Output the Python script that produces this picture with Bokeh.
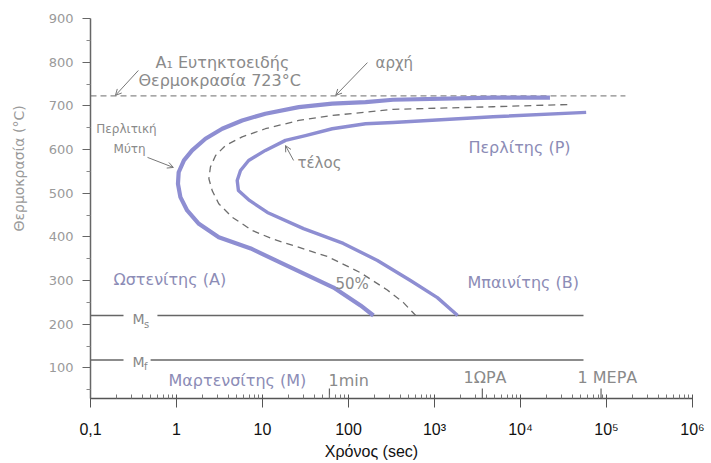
from bokeh.plotting import figure
from bokeh.models import FixedTicker, Arrow, OpenHead, ColumnDataSource, Range1d
from bokeh.core.properties import value
from bokeh.embed import file_html
from bokeh.resources import INLINE

# ---------------- data ----------------
# transformation start curve ("αρχή"): time [s], temperature [°C]
start_t = [22000, 4800, 330, 158, 64.7, 26.4, 10.8, 5.8, 3.4, 2.17, 1.52, 1.22, 1.06, 1.04,
           1.11, 1.33, 1.82, 3.1, 7.3, 16.2, 67, 138, 195]
start_T = [719, 719, 714, 708.5, 705, 697, 682, 666.6, 647.6, 624.6, 598, 575, 548, 521.5,
           491, 460.5, 430, 399, 373.5, 341, 284, 243, 220]
# 50% transformation curve
half_t = [35000, 4800, 330, 158, 64.7, 26.4, 10.8, 5.8, 3.7, 2.84, 2.48, 2.38, 2.6, 3.1,
          4.45, 7.6, 13, 57, 138, 280, 433, 605]
half_T = [703, 698, 692, 685.6, 678, 666.6, 647.6, 629, 609, 586, 560, 533, 506, 476,
          445, 414.7, 395.6, 355, 318, 279, 250, 220]
# transformation end curve ("τέλος")
end_t = [58000, 4800, 330, 158, 64.7, 31.6, 18.5, 10.8, 6.9, 5.55, 5.08, 5.25, 7.06, 11.4,
         30, 87, 217, 525, 1080, 1860]
end_T = [685, 675, 662, 659, 647.6, 632, 621, 598, 575, 552, 529, 506, 483.5, 456,
         419, 385, 346, 300, 261, 220]

eutectoid_T = 723          # A1
eutectoid_t_end = 1.66e5
ms_T = 220                 # martensite start
mf_T = 118                 # martensite finish
m_line_t_end = 5.4e4
ms_gap = [0.242, 0.60]     # gap around the "Ms" label
mf_gap = [0.242, 0.50]

marker_t = [60, 3600, 86400]          # 1 min, 1 hour, 1 day
marker_labels = ["1min", "1ΩΡΑ", "1 ΜΕΡΑ"]

x_ticks = [0.1, 1, 10, 100, 1e3, 1e4, 1e5, 1e6]
x_tick_labels = ["0,1", "1", "10", "100", "10³", "10⁴", "10⁵", "10⁶"]
y_ticks = [100, 200, 300, 400, 500, 600, 700, 800, 900]

# ---------------- figure ----------------
FONT = "DejaVu Sans"
LAV = "#8e8ed2"
GREY_TXT = "#8a8a8a"
PHASE_TXT = "#8c8cb6"
NB = "\u00a0"

p = figure(width=711, height=463, x_axis_type="log",
           x_range=Range1d(0.1, 1e6), y_range=Range1d(30, 900),
           output_backend="svg", toolbar_location=None,
           min_border_left=90, min_border_right=19,
           min_border_top=18, min_border_bottom=65)
p.outline_line_color = None
p.grid.visible = False
p.background_fill_color = "white"
p.border_fill_color = "white"

minor = [k * 10 ** d for d in range(-1, 6) for k in range(2, 10)]
p.xaxis.ticker = FixedTicker(ticks=x_ticks, minor_ticks=minor)
p.xaxis.major_label_overrides = {float(t): l for t, l in zip(x_ticks, x_tick_labels)}
p.xaxis.major_label_text_font = "Liberation Sans"
p.xaxis.major_label_text_font_size = "16px"
p.xaxis.major_label_text_color = "#111111"
p.xaxis.axis_line_color = "#555555"
p.xaxis.axis_line_width = 1.5
p.xaxis.major_tick_line_color = "#555555"
p.xaxis.minor_tick_line_color = "#777777"
p.xaxis.major_tick_in = 4
p.xaxis.major_tick_out = 9
p.xaxis.minor_tick_in = 4
p.xaxis.minor_tick_out = 0
p.xaxis.major_label_standoff = 13
p.xaxis.axis_label = "Χρόνος (sec)" + NB * 9
p.xaxis.axis_label_text_font = "Liberation Sans"
p.xaxis.axis_label_text_font_size = "16px"
p.xaxis.axis_label_text_font_style = "normal"
p.xaxis.axis_label_text_color = "#111111"
p.xaxis.axis_label_standoff = 2

p.yaxis.ticker = FixedTicker(ticks=y_ticks, minor_ticks=[v + 50 for v in y_ticks[:-1]] + [50])
p.yaxis.major_label_text_font = FONT
p.yaxis.major_label_text_font_size = "13px"
p.yaxis.major_label_text_color = "#9a9a9a"
p.yaxis.axis_line_color = "#666666"
p.yaxis.axis_line_width = 1.5
p.yaxis.major_tick_line_color = "#666666"
p.yaxis.minor_tick_line_color = "#888888"
p.yaxis.major_tick_in = 0
p.yaxis.major_tick_out = 8
p.yaxis.minor_tick_in = 0
p.yaxis.minor_tick_out = 4
p.yaxis.major_label_standoff = 9
p.yaxis.axis_label = NB * 18 + "Θερμοκρασία (°C)"
p.yaxis.axis_label_text_font = FONT
p.yaxis.axis_label_text_font_size = "14px"
p.yaxis.axis_label_text_font_style = "normal"
p.yaxis.axis_label_text_color = "#9a9a9a"
p.yaxis.axis_label_standoff = 19

# ---------------- lines ----------------
p.line([0.1, eutectoid_t_end], [eutectoid_T, eutectoid_T], line_color="#8a8a8a",
       line_width=1.2, line_dash="6 4")
p.line([0.1, ms_gap[0]], [ms_T, ms_T], line_color="#666666", line_width=1.6)
p.line([ms_gap[1], m_line_t_end], [ms_T, ms_T], line_color="#666666", line_width=1.6)
p.line([0.1, mf_gap[0]], [mf_T, mf_T], line_color="#666666", line_width=1.6)
p.line([mf_gap[1], m_line_t_end], [mf_T, mf_T], line_color="#666666", line_width=1.6)

p.line(start_t, start_T, line_color=LAV, line_width=4.2, line_join="round")
p.line(half_t, half_T, line_color="#6e6e6e", line_width=1.3, line_dash="7 5")
p.line(end_t, end_T, line_color=LAV, line_width=3.4, line_join="round")

p.segment(x0=marker_t, x1=marker_t, y0=[30] * 3, y1=[53] * 3,
          line_color="#666666", line_width=1.2)

# ---------------- texts ----------------
def txt(xs, ys, texts, color, size, align="left", font=FONT):
    src = ColumnDataSource(dict(x=xs, y=ys, t=texts))
    p.text(x="x", y="y", text="t", source=src, text_color=color,
           text_font=value(font), text_font_size=size,
           text_align=align, text_baseline="middle")

txt([0.57, 0.361], [799, 758], ["A₁ Ευτηκτοειδής", "Θερμοκρασία 723°C"], GREY_TXT, "16px")
txt([206], [799], ["αρχή"], GREY_TXT, "15px")
txt([0.262, 0.285], [648, 602], ["Περλιτική", "Μύτη"], GREY_TXT, "12px", align="center")
txt([25.5], [570], ["τέλος"], GREY_TXT, "15px")
txt([2480], [605], ["Περλίτης (P)"], PHASE_TXT, "16px")
txt([0.185], [302], ["Ωστενίτης (Α)"], PHASE_TXT, "16px")
txt([2420], [296], ["Μπαινίτης (Β)"], PHASE_TXT, "16px")
txt([70.6], [293], ["50%"], GREY_TXT, "15px")
txt([0.807], [71], ["Μαρτενσίτης (Μ)"], PHASE_TXT, "16px")
txt([58.5, 2175, 46000], [71, 78, 78], marker_labels, GREY_TXT, "16px")
txt([0.308, 0.308], [ms_T - 8, mf_T - 4], ["M", "M"], "#888888", "14px")
txt([0.42, 0.42], [ms_T - 20, mf_T - 15], ["s", "f"], "#888888", "10px")

# ---------------- arrows ----------------
def arr(x0, y0, x1, y1):
    p.add_layout(Arrow(end=OpenHead(size=6, line_color="#777777", line_width=1),
                       x_start=x0, y_start=y0, x_end=x1, y_end=y1,
                       line_color="#777777", line_width=1))

arr(0.36, 781, 0.195, 724)
arr(166, 799, 71, 724)
arr(0.46, 582, 0.92, 559)
arr(23, 575, 18.5, 609)

open("out.html", "w").write(file_html(p, INLINE))
